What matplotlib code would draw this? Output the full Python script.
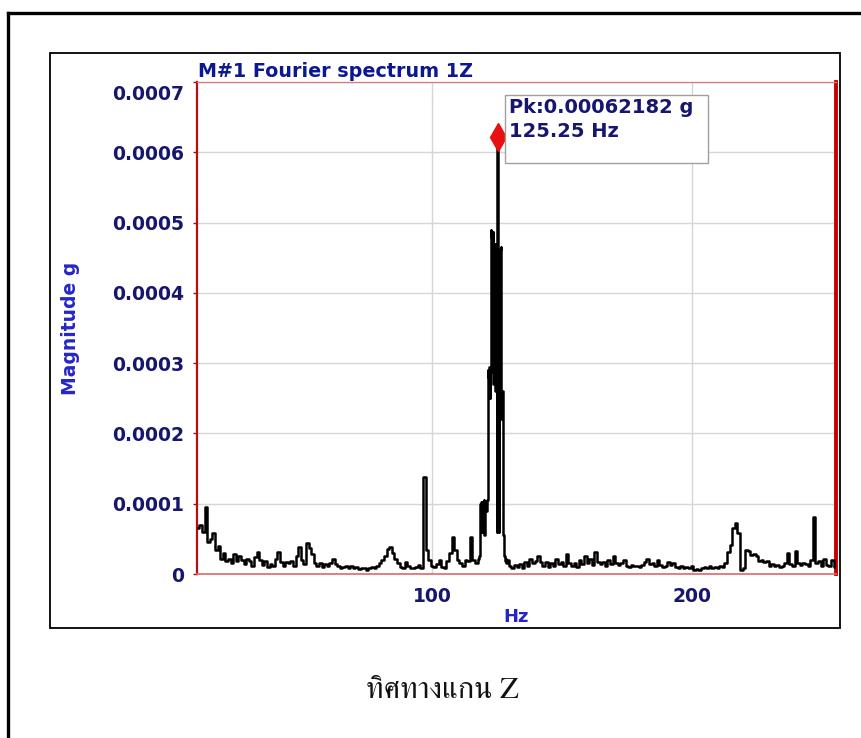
import numpy as np
import matplotlib
matplotlib.use('Agg')
from matplotlib import pyplot as plt
from matplotlib import patches, transforms, font_manager
from matplotlib.ft2font import FT2Font

# spectrum magnitude in micro-g, 1 Hz bins from 10 Hz up to 118 Hz
low_start = 10.0
low_mag = [65, 70, 60, 95, 45, 50, 58, 34, 40, 22,
           30, 18, 22, 15, 29, 18, 26, 20, 14, 22,
           18, 12, 24, 32, 20, 13, 18, 10, 14, 12,
           22, 31, 17, 12, 17, 15, 18, 12, 26, 39,
           20, 14, 44, 37, 28, 15, 12, 16, 10, 14,
           12, 16, 22, 14, 11, 8, 10, 12, 9, 11,
           8, 10, 7, 9, 8, 6, 9, 10, 8, 12,
           15, 20, 25, 36, 39, 30, 22, 15, 10, 8,
           17, 12, 9, 8, 10, 13, 9, 138, 34, 20,
           12, 10, 14, 20, 10, 9, 18, 30, 53, 34,
           20, 15, 12, 20, 18, 53, 20, 15, 22]

# finer 0.25 Hz bins around the main peak, 118.25 .. 128.75 Hz
peak_start = 118.25
peak_mag = [25, 60, 100, 102, 60, 103, 95, 105, 55, 100,
            104, 90, 105, 290, 280, 295, 250, 288, 489, 480,
            300, 487, 270, 430, 470, 260, 300, 60, 621.82, 250,
            60, 280, 463, 465, 220, 260, 200, 55, 50, 25,
            18, 22, 15]

# 1 Hz bins from 129 Hz to 255 Hz
high_start = 129.0
high_mag = [20, 12, 8, 13, 10, 14, 9, 17, 12, 22,
            15, 18, 25, 17, 12, 17, 10, 15, 12, 22,
            14, 17, 12, 29, 15, 12, 15, 10, 20, 14,
            25, 15, 22, 13, 32, 17, 14, 17, 12, 20,
            14, 25, 16, 13, 15, 20, 12, 10, 13, 11,
            12, 10, 13, 17, 22, 14, 15, 11, 20, 13,
            10, 12, 17, 13, 15, 10, 9, 11, 8, 10,
            9, 12, 6, 7, 5, 8, 10, 9, 11, 8,
            10, 9, 11, 10, 15, 32, 41, 65, 72, 58,
            6, 8, 34, 33, 27, 28, 25, 18, 20, 17,
            18, 12, 14, 11, 13, 10, 12, 15, 30, 14,
            12, 33, 15, 13, 16, 14, 12, 20, 81, 15,
            18, 12, 22, 13, 11, 20, 10]

peak_hz = 125.25
peak_g = 0.00062182

yticks = [0, 0.0001, 0.0002, 0.0003, 0.0004, 0.0005, 0.0006, 0.0007]
ytick_labels = ['0', '0.0001', '0.0002', '0.0003', '0.0004', '0.0005', '0.0006', '0.0007']
xticks = [100, 200]
caption = 'ทิศทางแกน Z'

freq = np.concatenate([low_start + np.arange(len(low_mag)),
                       peak_start + 0.25 * np.arange(len(peak_mag)),
                       high_start + np.arange(len(high_mag))])
mag = np.concatenate([low_mag, peak_mag, high_mag]) * 1e-6


def has_thai(path):
	try:
		return ord('ท') in FT2Font(path).get_charmap()
	except Exception:
		return False

thai_fams = sorted({f.name for f in font_manager.fontManager.ttflist if has_thai(f.fname)})
serif_thai = [n for n in thai_fams if 'Serif' in n or 'Looped' in n]
caption_fams = serif_thai + thai_fams + ['DejaVu Serif']

navy = '#16166e'
blue = '#2626c8'

fig = plt.figure(figsize=(8.62, 7.38), dpi=100)
W, H = 862.0, 738.0

# page frame (top and left edge only)
fig.add_artist(plt.Line2D([8.5 / W, 1.0], [1 - 13 / H, 1 - 13 / H], color='black', lw=2.4))
fig.add_artist(plt.Line2D([8.5 / W, 8.5 / W], [0.0, 1 - 13 / H], color='black', lw=2.4))

# screenshot panel border
fig.add_artist(patches.Rectangle((50 / W, 1 - 628 / H), 790 / W, 575 / H, fill=False,
                                 lw=1.3, edgecolor='black', transform=fig.transFigure))

ax = fig.add_axes([197 / W, 1 - 574 / H, 639 / W, 492 / H])
ax.plot(freq, mag, color='black', lw=1.8, drawstyle='steps-mid', zorder=3)
ax.plot([peak_hz], [peak_g], marker='d', color='#e81010', markersize=14, zorder=4, clip_on=False)

ax.set_xlim(9.6, 255.4)
ax.set_ylim(0, 0.0007)
ax.set_xticks(xticks)
ax.set_xticklabels([str(t) for t in xticks])
ax.set_yticks(yticks)
ax.set_yticklabels(ytick_labels)
ax.grid(True, color='#d6d6d6', lw=1.0, zorder=0)

for lab in ax.get_xticklabels() + ax.get_yticklabels():
	lab.set_fontweight('bold')
	lab.set_color(navy)
	lab.set_fontsize(13.5)
ax.tick_params(axis='y', length=3, width=1, color='#a01010', pad=6)
ax.tick_params(axis='x', length=0, pad=9)

# top label sits a bit lower to clear the title
top_lab = ax.get_yticklabels()[-1]
top_lab.set_transform(top_lab.get_transform() + transforms.ScaledTranslation(0, -10 / 100, fig.dpi_scale_trans))

ax.spines['left'].set_color('#b01010')
ax.spines['left'].set_linewidth(1.6)
ax.spines['right'].set_color('#c80000')
ax.spines['right'].set_linewidth(2.8)
ax.spines['top'].set_color('#d88080')
ax.spines['top'].set_linewidth(1.0)
ax.spines['bottom'].set_color('#e06868')
ax.spines['bottom'].set_linewidth(1.2)

ax.set_xlabel('Hz', fontsize=13, fontweight='bold', color=blue)
ax.xaxis.set_label_coords(0.5, -0.069)
ax.set_ylabel('Magnitude g', fontsize=13.5, fontweight='bold', color=blue)
ax.yaxis.set_label_coords(-0.183, 0.5)

ax.annotate('M#1 Fourier spectrum 1Z', xy=(0, 1), xycoords='axes fraction',
            xytext=(1, 5), textcoords='offset pixels', ha='left', va='baseline',
            fontsize=13.8, fontweight='bold', color='#0c1890')

# peak readout box, placed relative to the peak point
fig.canvas.draw()
px, py = ax.transData.transform((peak_hz, peak_g))
ax.add_patch(patches.Rectangle((px + 7, py - 26), 203, 68, transform=transforms.IdentityTransform(),
                               facecolor='white', edgecolor='#a0a0a0', lw=1.0, zorder=5))
ax.annotate('Pk:{:.8f} g\n{:.2f} Hz'.format(peak_g, peak_hz), xy=(peak_hz, peak_g),
            xytext=(11, 39), textcoords='offset pixels', ha='left', va='top',
            fontsize=14, fontweight='bold', color=navy, linespacing=1.35, zorder=6)

fig.text(442 / W, 1 - 698 / H, caption, ha='center', va='baseline', fontsize=22,
         family=caption_fams, color='#111111')

fig.savefig('out.png', dpi=100)
